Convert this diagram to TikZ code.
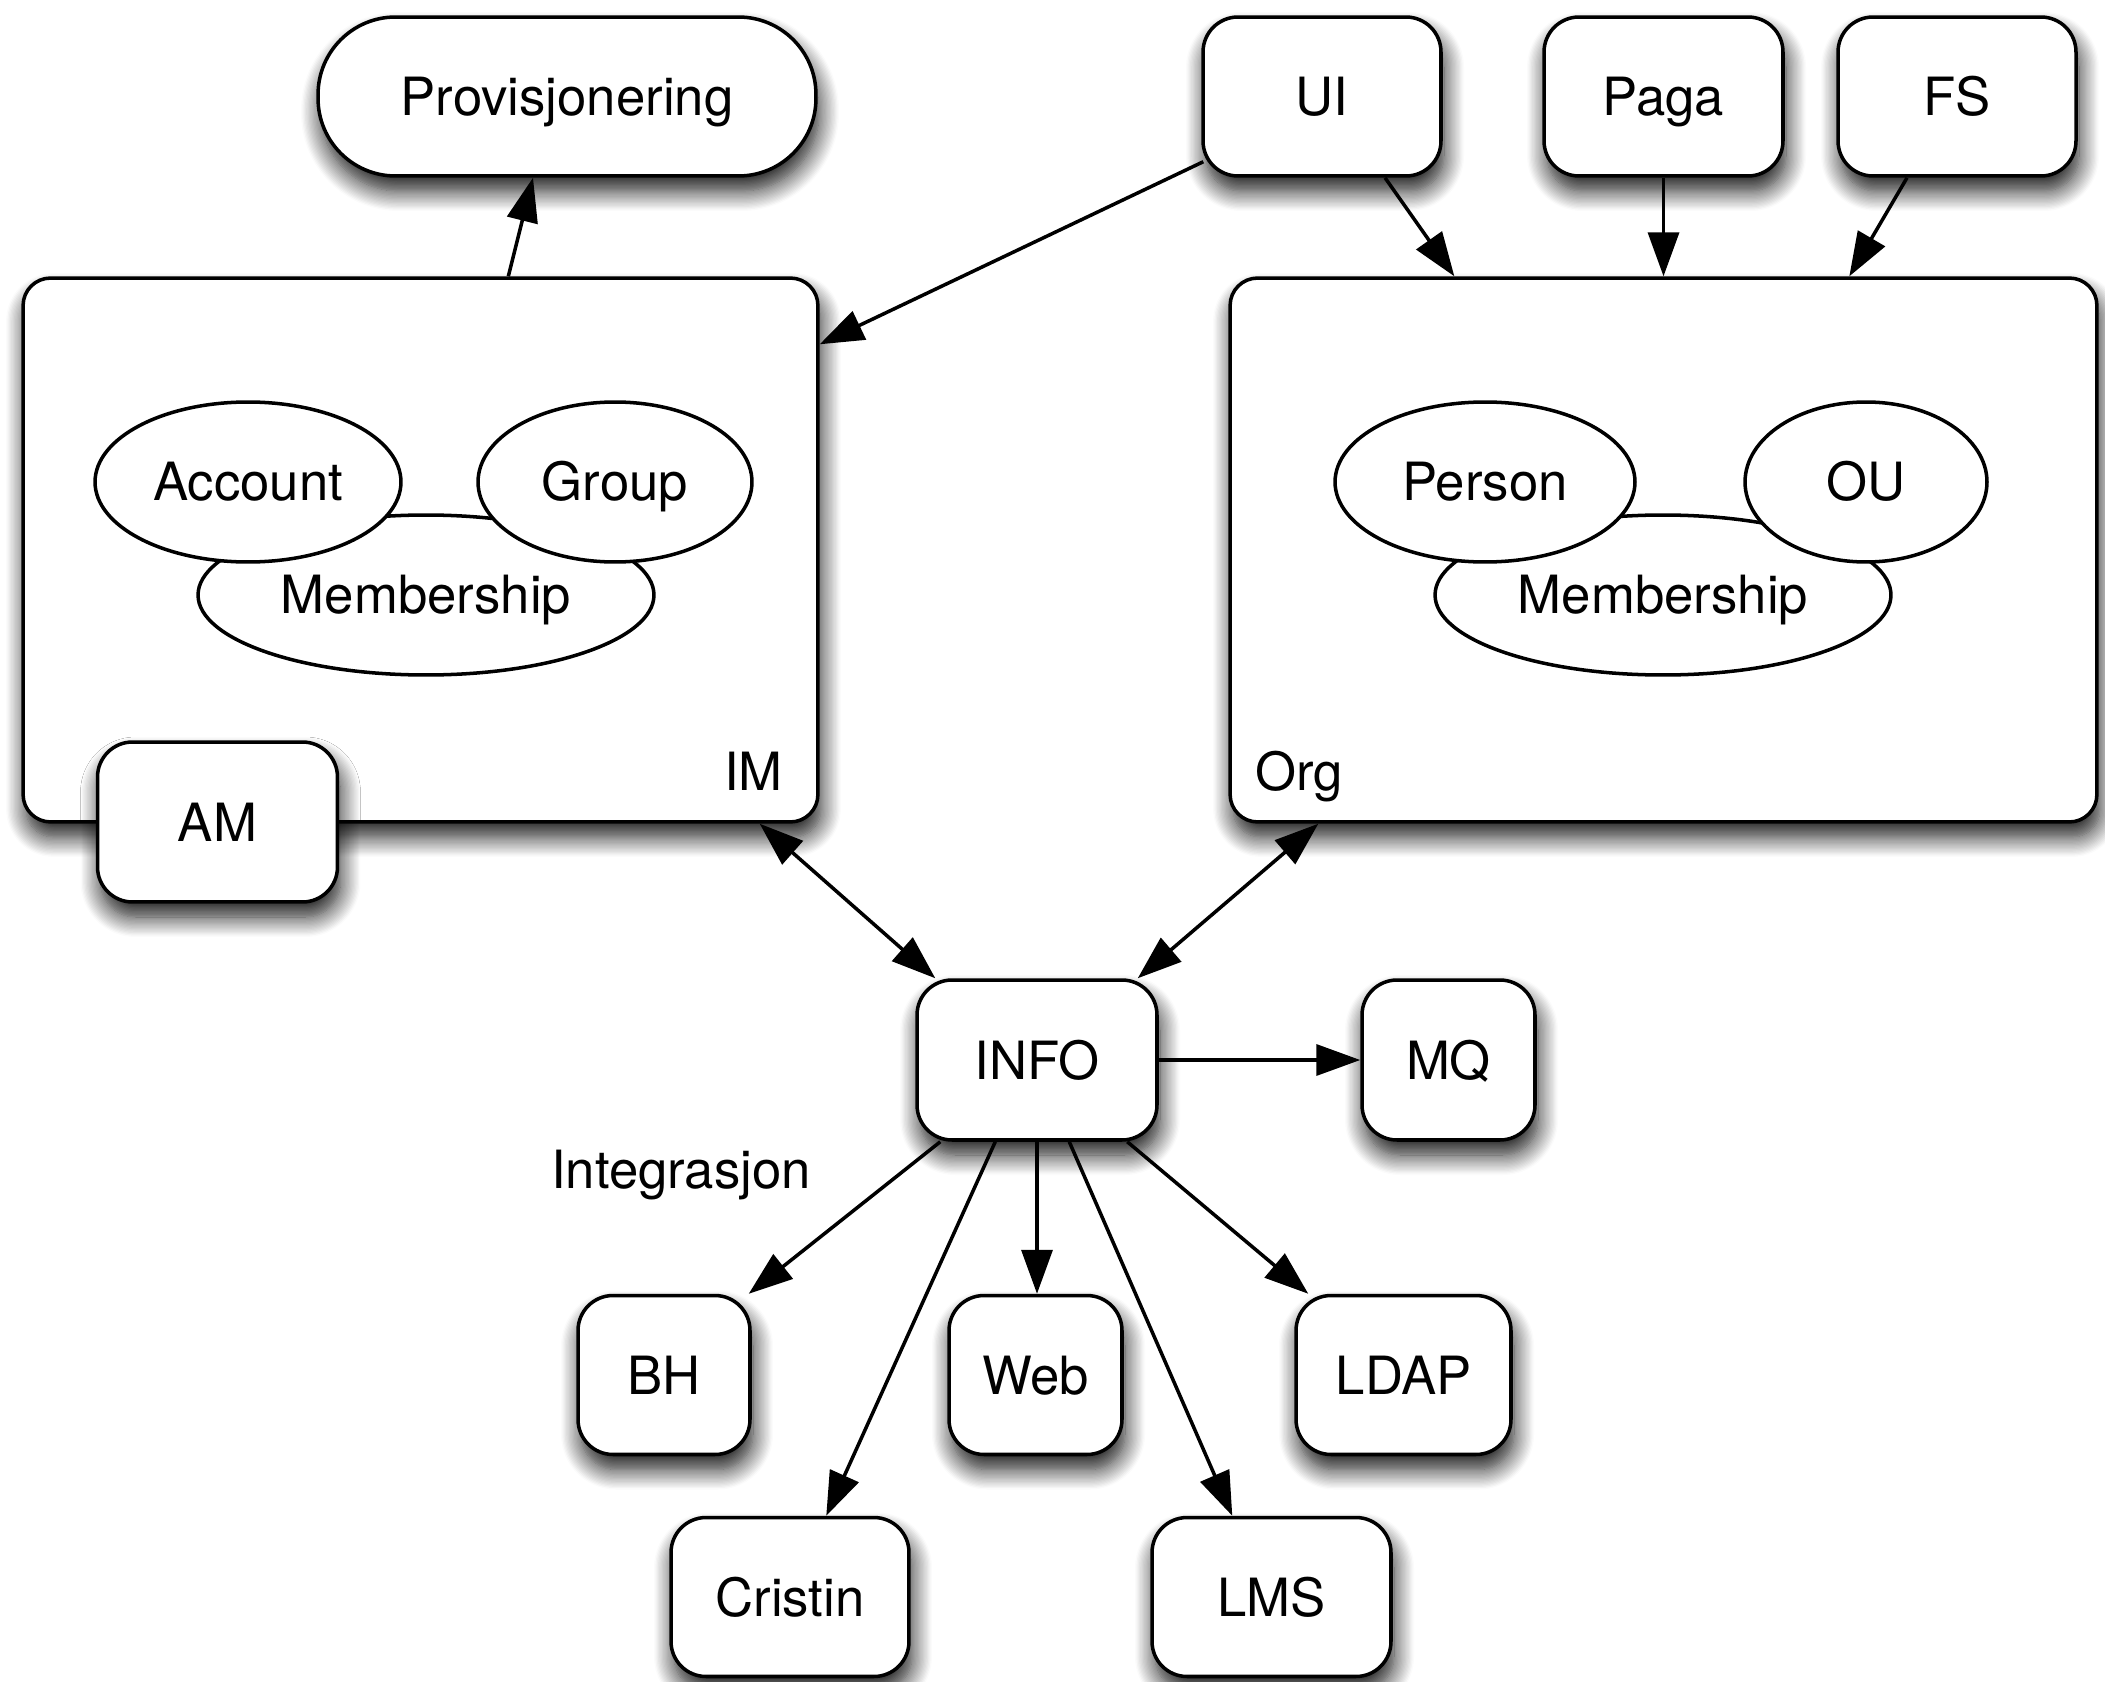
\documentclass[tikz,border=0pt]{standalone}
\usepackage{fontspec}
\setmainfont{TeX Gyre Heros}
\usetikzlibrary{arrows.meta,shadows.blur,calc,shapes.geometric}
\begin{document}
\begin{tikzpicture}[x=0.02cm,y=-0.02cm,
  every node/.style={font=\fontsize{30}{36}\selectfont,text height=0.76cm,text depth=0pt},
  shad/.style={blur shadow={shadow xshift=0.06cm,shadow yshift=-0.3cm,shadow blur radius=0.4cm,shadow opacity=92,shadow blur steps=16}},
  box/.style={draw,line width=2pt,fill=white,rounded corners=0.7cm,inner sep=0pt,minimum height=3.18cm,shad},
  bigbox/.style={draw,line width=2pt,fill=white,rounded corners=0.55cm,inner sep=0pt,shad},
  ell/.style={draw,line width=2pt,fill=white,ellipse,inner sep=0pt,minimum height=3.2cm},
  arr/.style={line width=2pt,-{Triangle[length=0.88cm,width=0.62cm]}},
  darr/.style={line width=2pt,{Triangle[length=0.88cm,width=0.62cm]}-{Triangle[length=0.88cm,width=0.62cm]}}
]
\useasboundingbox (0,0) rectangle (2105,1682);

% top
\node[box,minimum width=9.96cm,rounded corners=1.55cm] (prov) at (567,96.5) {Provisjonering};
\node[box,minimum width=4.76cm] (UI) at (1322,96.5) {UI};
\node[box,minimum width=4.78cm] (Paga) at (1663.5,96.5) {Paga};
\node[box,minimum width=4.76cm] (FS) at (1957,96.5) {FS};

% IM
\node[bigbox,minimum width=15.9cm,minimum height=10.88cm] (IM) at (420.5,550) {};
\node[ell,minimum width=9.12cm] (mem1) at (426,595) {Membership};
\node[ell,minimum width=6.12cm] (acc) at (248,482) {Account};
\node[ell,minimum width=5.48cm] (grp) at (615,482) {Group};
\node[anchor=base east] (imlab) at (789,790) {IM};
\node[box,minimum width=4.8cm,minimum height=3.2cm] (AM) at (217.5,822) {AM};

% Org
\node[bigbox,minimum width=17.34cm,minimum height=10.88cm] (Org) at (1663.5,550) {};
\node[ell,minimum width=9.12cm] (mem2) at (1663,595) {Membership};
\node[ell,minimum width=6.0cm] (pers) at (1485,482) {Person};
\node[ell,minimum width=4.84cm] (OU) at (1866,482) {OU};
\node[anchor=base west] (orglab) at (1249,790) {Org};

% integration
\node[box,minimum width=4.8cm,minimum height=3.2cm] (INFO) at (1037,1060) {INFO};
\node[box,minimum width=3.46cm,minimum height=3.2cm] (MQ) at (1448.5,1060) {MQ};
\node (integ) at (681,1169) {Integrasjon};
\node[box,minimum width=3.44cm] (BH) at (664,1375) {BH};
\node[box,minimum width=3.46cm] (Web) at (1035.5,1375) {Web};
\node[box,minimum width=4.3cm] (LDAP) at (1403.5,1375) {LDAP};
\node[box,minimum width=4.76cm] (Cristin) at (790,1597) {Cristin};
\node[box,minimum width=4.78cm] (LMS) at (1271.5,1597) {LMS};

% connectors
\draw[arr] ($(IM.north west)+(487,0)$) -- ($(prov.south)+(-34,0)$);
\draw[arr] ($(UI.south west)+(2,-16)$) -- ($(IM.north east)+(0,68)$);
\draw[arr] ($(UI.south)+(63,0)$) -- ($(Org.north west)+(226,0)$);
\draw[arr] (Paga.south) -- (Paga.south |- Org.north);
\draw[arr] ($(FS.south)+(-50,0)$) -- ($(Org.north west)+(621,0)$);
\draw[darr] ($(IM.south east)+(-60,0)$) -- ($(INFO.north west)+(20,0)$);
\draw[darr] ($(Org.south west)+(90,0)$) -- ($(INFO.north east)+(-21,0)$);
\draw[arr] (INFO.east) -- (MQ.west);
\draw[arr] ($(INFO.south west)+(25,0)$) -- ($(BH.north east)+(-3,0)$);
\draw[arr] ($(INFO.south west)+(80,0)$) -- ($(Cristin.north west)+(157,0)$);
\draw[arr] (INFO.south) -- (INFO.south |- Web.north);
\draw[arr] ($(INFO.south west)+(154,0)$) -- ($(LMS.north west)+(82,0)$);
\draw[arr] ($(INFO.south west)+(212,0)$) -- ($(LDAP.north west)+(14,0)$);
\end{tikzpicture}
\end{document}
